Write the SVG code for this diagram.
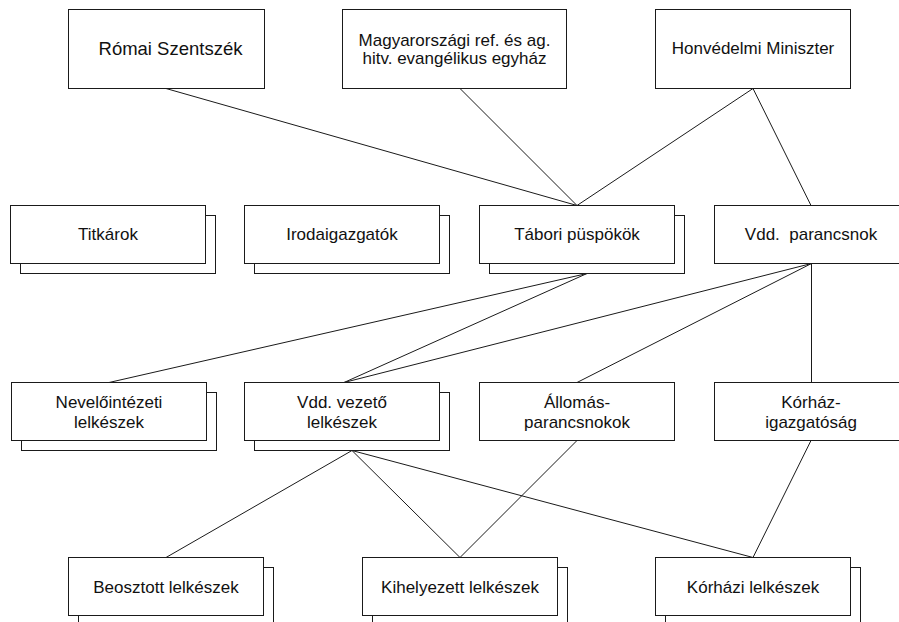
<svg xmlns="http://www.w3.org/2000/svg" width="899" height="622" viewBox="0 0 899 622">
  <style>
    .box { fill: #ffffff; stroke: #1a1a1a; stroke-width: 1; }
    .shadow { fill: #ffffff; stroke: #1a1a1a; stroke-width: 1; }
    .lbl { font-family: "Liberation Sans", Arial, sans-serif; font-size: 17px; fill: #111111; text-anchor: middle; }
    .big { font-size: 18.5px; }
    .edge { stroke: #1a1a1a; stroke-width: 1; fill: none; }
  </style>
  <rect x="0" y="0" width="899" height="622" fill="#ffffff"/>

  <!-- connectors -->
  <g id="connectors">
    <line class="edge" x1="166" y1="88.5" x2="577" y2="205.5"/>
    <line class="edge" x1="460" y1="88.5" x2="577" y2="205.5"/>
    <line class="edge" x1="753" y1="88.5" x2="577" y2="205.5"/>
    <line class="edge" x1="753" y1="88.5" x2="811" y2="205.5"/>
    <line class="edge" x1="587" y1="273.5" x2="109" y2="382.5"/>
    <line class="edge" x1="587" y1="273.5" x2="344" y2="382.5"/>
    <line class="edge" x1="811.5" y1="263.5" x2="344" y2="382.5"/>
    <line class="edge" x1="811.5" y1="263.5" x2="577" y2="382.5"/>
    <line class="edge" x1="811.5" y1="263.5" x2="811.5" y2="382.5"/>
    <line class="edge" x1="352" y1="450.5" x2="166" y2="557.5"/>
    <line class="edge" x1="352" y1="450.5" x2="460" y2="557.5"/>
    <line class="edge" x1="352" y1="450.5" x2="753" y2="557.5"/>
    <line class="edge" x1="577" y1="440.5" x2="460" y2="557.5"/>
    <line class="edge" x1="811" y1="440.5" x2="753" y2="557.5"/>
  </g>

  <!-- top row -->
  <g id="romai-szentszek">
    <rect class="box" x="68.5" y="9.5" width="196" height="79"/>
    <text class="lbl big" x="170.5" y="54.5">Római Szentszék</text>
  </g>
  <g id="magyar-egyhaz">
    <rect class="box" x="342.5" y="9.5" width="224" height="79"/>
    <text class="lbl" x="454.5" y="45.5">Magyarországi ref. és ag.</text>
    <text class="lbl" x="454.5" y="64">hitv. evangélikus egyház</text>
  </g>
  <g id="honvedelmi-miniszter">
    <rect class="box" x="655.5" y="9.5" width="195" height="79"/>
    <text class="lbl" x="753" y="54">Honvédelmi Miniszter</text>
  </g>

  <!-- second row -->
  <g id="titkarok">
    <rect class="shadow" x="20.5" y="215.5" width="195" height="58"/>
    <rect class="box" x="10.5" y="205.5" width="195" height="58"/>
    <text class="lbl" x="108" y="240">Titkárok</text>
  </g>
  <g id="irodaigazgatok">
    <rect class="shadow" x="254.5" y="215.5" width="195" height="58"/>
    <rect class="box" x="244.5" y="205.5" width="195" height="58"/>
    <text class="lbl" x="342" y="240">Irodaigazgatók</text>
  </g>
  <g id="tabori-puspokok">
    <rect class="shadow" x="489.5" y="215.5" width="195" height="58"/>
    <rect class="box" x="479.5" y="205.5" width="195" height="58"/>
    <text class="lbl" x="577" y="240">Tábori püspökök</text>
  </g>
  <g id="vdd-parancsnok">
    <rect class="box" x="714.5" y="205.5" width="195" height="58"/>
    <text class="lbl" x="811" y="240" xml:space="preserve">Vdd.  parancsnok</text>
  </g>

  <!-- third row -->
  <g id="nevelointezeti">
    <rect class="shadow" x="21.5" y="392.5" width="195" height="58"/>
    <rect class="box" x="11.5" y="382.5" width="195" height="58"/>
    <text class="lbl" x="109" y="408">Nevelőintézeti</text>
    <text class="lbl" x="109" y="428">lelkészek</text>
  </g>
  <g id="vdd-vezeto">
    <rect class="shadow" x="254.5" y="392.5" width="195" height="58"/>
    <rect class="box" x="244.5" y="382.5" width="195" height="58"/>
    <text class="lbl" x="342" y="408">Vdd. vezető</text>
    <text class="lbl" x="342" y="428">lelkészek</text>
  </g>
  <g id="allomas-parancsnokok">
    <rect class="box" x="479.5" y="382.5" width="195" height="58"/>
    <text class="lbl" x="577" y="408">Állomás-</text>
    <text class="lbl" x="577" y="428">parancsnokok</text>
  </g>
  <g id="korhaz-igazgatosag">
    <rect class="box" x="714.5" y="382.5" width="195" height="58"/>
    <text class="lbl" x="811" y="408">Kórház-</text>
    <text class="lbl" x="811" y="428">igazgatóság</text>
  </g>

  <!-- bottom row -->
  <g id="beosztott">
    <rect class="shadow" x="78.5" y="567.5" width="195" height="58"/>
    <rect class="box" x="68.5" y="557.5" width="195" height="58"/>
    <text class="lbl" x="166" y="593">Beosztott lelkészek</text>
  </g>
  <g id="kihelyezett">
    <rect class="shadow" x="372.5" y="567.5" width="195" height="58"/>
    <rect class="box" x="362.5" y="557.5" width="195" height="58"/>
    <text class="lbl" x="460" y="593">Kihelyezett lelkészek</text>
  </g>
  <g id="korhazi">
    <rect class="shadow" x="665.5" y="567.5" width="195" height="58"/>
    <rect class="box" x="655.5" y="557.5" width="195" height="58"/>
    <text class="lbl" x="753" y="593">Kórházi lelkészek</text>
  </g>
</svg>
